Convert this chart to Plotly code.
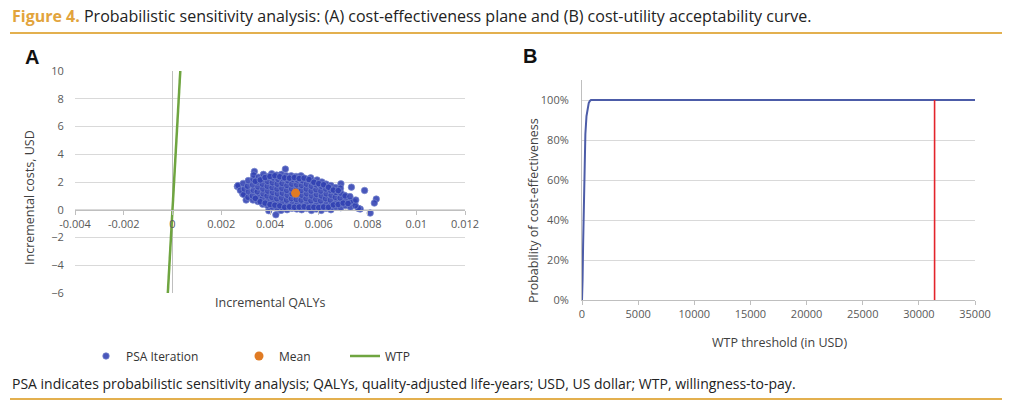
import plotly.graph_objects as go

W, H = 1009, 410

# ---------------- data ----------------
# PSA iterations (incremental QALYs, incremental costs USD), read off the cloud
psa_qaly = [
    2.66e-3, 2.69e-3, 2.88e-3, 3.36e-3, 4.63e-3, 3.95e-3, 4.24e-3, 8.11e-3, 8.36e-3, 8.28e-3,
    7.88e-3, 7.34e-3, 7.70e-3, 7.62e-3, 6.91e-3, 7.05e-3, 7.45e-3, 2.78e-3, 3.02e-3, 4.45e-3,
    2.92e-3, 2.95e-3, 2.90e-3,
    3.10e-3, 3.12e-3, 3.08e-3, 3.11e-3,
    3.30e-3, 3.28e-3, 3.32e-3, 3.29e-3, 3.31e-3, 3.33e-3,
    3.50e-3, 3.52e-3, 3.48e-3, 3.51e-3, 3.49e-3, 3.53e-3,
    3.70e-3, 3.68e-3, 3.72e-3, 3.71e-3, 3.69e-3, 3.70e-3, 3.73e-3,
    3.90e-3, 3.92e-3, 3.88e-3, 3.91e-3, 3.89e-3, 3.90e-3, 3.93e-3,
    4.10e-3, 4.12e-3, 4.08e-3, 4.11e-3, 4.09e-3, 4.10e-3, 4.13e-3, 4.07e-3,
    4.30e-3, 4.32e-3, 4.28e-3, 4.31e-3, 4.29e-3, 4.30e-3, 4.33e-3, 4.27e-3,
    4.50e-3, 4.52e-3, 4.48e-3, 4.51e-3, 4.49e-3, 4.50e-3, 4.53e-3, 4.47e-3,
    4.70e-3, 4.72e-3, 4.68e-3, 4.71e-3, 4.69e-3, 4.70e-3, 4.73e-3, 4.67e-3,
    4.90e-3, 4.92e-3, 4.88e-3, 4.91e-3, 4.89e-3, 4.90e-3, 4.93e-3, 4.87e-3,
    5.10e-3, 5.12e-3, 5.08e-3, 5.11e-3, 5.09e-3, 5.10e-3, 5.13e-3, 5.07e-3,
    5.30e-3, 5.32e-3, 5.28e-3, 5.31e-3, 5.29e-3, 5.30e-3, 5.33e-3, 5.27e-3,
    5.50e-3, 5.52e-3, 5.48e-3, 5.51e-3, 5.49e-3, 5.50e-3, 5.53e-3,
    5.70e-3, 5.72e-3, 5.68e-3, 5.71e-3, 5.69e-3, 5.70e-3, 5.73e-3, 5.67e-3,
    5.90e-3, 5.92e-3, 5.88e-3, 5.91e-3, 5.89e-3, 5.90e-3, 5.93e-3,
    6.10e-3, 6.12e-3, 6.08e-3, 6.11e-3, 6.09e-3, 6.10e-3, 6.13e-3,
    6.30e-3, 6.32e-3, 6.28e-3, 6.31e-3, 6.29e-3, 6.30e-3,
    6.50e-3, 6.52e-3, 6.48e-3, 6.51e-3, 6.49e-3, 6.50e-3,
    6.70e-3, 6.72e-3, 6.68e-3, 6.71e-3, 6.69e-3,
    6.90e-3, 6.92e-3, 6.88e-3, 6.91e-3, 6.89e-3,
    7.10e-3, 7.12e-3, 7.08e-3,
    7.30e-3, 7.32e-3, 7.28e-3,
    7.50e-3, 7.52e-3,
    3.40e-3, 3.60e-3, 3.80e-3, 4.00e-3, 4.20e-3, 4.40e-3, 4.60e-3, 4.80e-3, 5.00e-3, 5.20e-3,
    5.40e-3, 5.60e-3, 5.80e-3, 6.00e-3, 6.20e-3, 6.40e-3, 6.60e-3, 6.80e-3, 7.00e-3, 7.20e-3,
    3.40e-3, 3.60e-3, 3.80e-3, 4.00e-3, 4.20e-3, 4.40e-3, 4.60e-3, 4.80e-3, 5.00e-3, 5.20e-3,
    5.40e-3, 5.60e-3, 5.80e-3, 6.00e-3, 6.20e-3, 6.40e-3, 6.60e-3, 6.80e-3,
]
psa_cost = [
    1.68, 1.75, 1.15, 2.76, 2.93, -0.07, -0.36, -0.24, 0.77, 0.48,
    1.39, 1.63, 0.05, 0.10, 1.87, 1.05, 0.55, 1.40, 0.70, -0.05,
    1.10, 1.50, 1.90,
    0.90, 1.30, 1.70, 2.10,
    0.70, 1.00, 1.40, 1.80, 2.20, 2.50,
    0.60, 0.95, 1.30, 1.65, 2.00, 2.35,
    0.40, 0.80, 1.15, 1.50, 1.85, 2.20, 2.55,
    0.30, 0.65, 1.00, 1.35, 1.70, 2.05, 2.40,
    0.20, 0.55, 0.90, 1.25, 1.60, 1.95, 2.30, 2.60,
    0.10, 0.45, 0.80, 1.15, 1.50, 1.85, 2.20, 2.50,
    0.15, 0.50, 0.85, 1.20, 1.55, 1.90, 2.25, 2.55,
    0.00, 0.35, 0.70, 1.05, 1.40, 1.75, 2.10, 2.45,
    0.10, 0.45, 0.80, 1.15, 1.50, 1.85, 2.20, 2.45,
    0.05, 0.40, 0.75, 1.10, 1.45, 1.80, 2.15, 2.40,
    0.00, 0.35, 0.70, 1.05, 1.40, 1.75, 2.10, 2.45,
    0.10, 0.45, 0.80, 1.15, 1.50, 1.85, 2.20,
    -0.05, 0.30, 0.65, 1.00, 1.35, 1.70, 2.05, 2.30,
    0.05, 0.40, 0.75, 1.10, 1.45, 1.80, 2.15,
    -0.05, 0.30, 0.65, 1.00, 1.35, 1.70, 2.00,
    0.10, 0.45, 0.80, 1.15, 1.50, 1.85,
    0.00, 0.35, 0.70, 1.05, 1.40, 1.75,
    0.20, 0.55, 0.90, 1.25, 1.60,
    0.15, 0.50, 0.85, 1.20, 1.55,
    0.30, 0.65, 1.00,
    0.20, 0.60, 0.95,
    0.30, 0.70,
    0.82, 0.58, 0.48, 0.38, 0.33, 0.28, 0.18, 0.22, 0.18, 0.20,
    0.22, 0.15, 0.18, 0.16, 0.20, 0.18, 0.35, 0.38, 0.48, 0.45,
    2.05, 2.15, 2.32, 2.40, 2.45, 2.38, 2.30, 2.28, 2.32, 2.25,
    2.28, 2.18, 1.98, 1.88, 1.80, 1.62, 1.42, 1.38,
]
mean_qaly = [5.05e-3]
mean_cost = [1.2]

wtp_qaly = [-0.000192, 0.000319]
wtp_cost = [-6, 10]

a_xticks = [-0.004, -0.002, 0, 0.002, 0.004, 0.006, 0.008, 0.01, 0.012]
a_xlabels = ["-0.004", "-0.002", "0", "0.002", "0.004", "0.006", "0.008", "0.01", "0.012"]
a_yticks = [-6, -4, -2, 0, 2, 4, 6, 8, 10]

# CEAC
ceac_wtp = [0, 25, 50, 100, 150, 200, 250, 300, 400, 500, 600, 700, 800, 1000,
            5000, 10000, 15000, 20000, 25000, 30000, 35000]
ceac_prob = [0.0, 0.04, 0.10, 0.28, 0.46, 0.62, 0.74, 0.83, 0.92, 0.965, 0.985, 0.995, 1.0, 1.0,
             1.0, 1.0, 1.0, 1.0, 1.0, 1.0, 1.0]
threshold_wtp = 31400
b_xticks = [0, 5000, 10000, 15000, 20000, 25000, 30000, 35000]
b_xlabels = ["0", "5000", "10000", "15000", "20000", "25000", "30000", "35000"]
b_yticks = [0, 0.2, 0.4, 0.6, 0.8, 1.0]

# ---------------- layout geometry (pixels) ----------------
def px(x):
    return x / W

def py(y):
    return 1 - y / H

A_x0, A_x1, A_ytop, A_ybot = 75, 465, 71, 293
B_x0, B_x1, B_ytop, B_ybot = 582, 975, 80, 300

a_yrange = [-6, 10]
a_ydom = [py(A_ybot), py(A_ytop)]
a_xaxis_pos = a_ydom[0] + (0 - a_yrange[0]) / (a_yrange[1] - a_yrange[0]) * (a_ydom[1] - a_ydom[0])

FONT = "Open Sans"
TICK = "#595959"
GRID = "#D9D9D9"
AXLINE = "#BFBFBF"

fig = go.Figure()

fig.add_trace(go.Scatter(
    x=psa_qaly, y=psa_cost, mode="markers", name="PSA Iteration",
    xaxis="x", yaxis="y", legend="legend",
    marker=dict(size=6.5, color="rgba(48,64,178,0.88)",
                line=dict(width=0.8, color="rgba(120,135,205,0.9)")),
))
fig.add_trace(go.Scatter(
    x=mean_qaly, y=mean_cost, mode="markers", name="Mean",
    xaxis="x", yaxis="y", legend="legend2",
    marker=dict(size=9, color="#E07B24"),
))
fig.add_trace(go.Scatter(
    x=wtp_qaly, y=wtp_cost, mode="lines", name="WTP",
    xaxis="x", yaxis="y", legend="legend3",
    line=dict(color="#6FA540", width=2.5),
))

fig.add_trace(go.Scatter(
    x=ceac_wtp, y=ceac_prob, mode="lines", showlegend=False,
    xaxis="x2", yaxis="y2", line=dict(color="#4C5CA8", width=2),
))
fig.add_trace(go.Scatter(
    x=[threshold_wtp, threshold_wtp], y=[0, 1], mode="lines", showlegend=False,
    xaxis="x2", yaxis="y2", line=dict(color="#E3242B", width=1.6),
))

leg_common = dict(orientation="h", yanchor="middle", bgcolor="rgba(0,0,0,0)",
                  font=dict(family=FONT, size=12, color="#333333"))

fig.update_layout(
    width=W, height=H,
    margin=dict(l=0, r=0, t=0, b=0, autoexpand=False),
    paper_bgcolor="white", plot_bgcolor="white",
    font=dict(family=FONT, color=TICK),
    xaxis=dict(
        domain=[px(A_x0), px(A_x1)], range=[-0.004, 0.012], automargin=False,
        anchor="free", position=a_xaxis_pos,
        tickvals=a_xticks, ticktext=a_xlabels,
        showgrid=False, zeroline=True, zerolinecolor=AXLINE, zerolinewidth=1,
        showline=True, linecolor=AXLINE, linewidth=1,
        ticks="outside", ticklen=4, tickcolor=AXLINE,
        tickfont=dict(size=11, color=TICK, family=FONT),
    ),
    yaxis=dict(
        domain=a_ydom, range=a_yrange, anchor="x", automargin=False,
        tickvals=a_yticks, showgrid=True, gridcolor=GRID, gridwidth=1,
        zeroline=False, showline=False,
        ticks="outside", ticklen=8, tickcolor="rgba(0,0,0,0)",
        tickfont=dict(size=11, color=TICK, family=FONT),
    ),
    xaxis2=dict(
        domain=[px(B_x0), px(B_x1)], range=[0, 35000], anchor="y2", automargin=False,
        tickvals=b_xticks, ticktext=b_xlabels, showgrid=False, zeroline=False,
        showline=True, linecolor=AXLINE, linewidth=1,
        ticks="outside", ticklen=4, tickcolor=AXLINE,
        tickfont=dict(size=11, color=TICK, family=FONT),
    ),
    yaxis2=dict(
        domain=[py(B_ybot), py(B_ytop)], range=[0, 1.1], anchor="x2", automargin=False,
        tickvals=b_yticks, tickformat=".0%",
        showgrid=True, gridcolor=GRID, gridwidth=1, zeroline=False,
        showline=True, linecolor=AXLINE, linewidth=1,
        ticks="outside", ticklen=10, tickcolor="rgba(0,0,0,0)",
        tickfont=dict(size=11, color=TICK, family=FONT),
    ),
    legend=dict(x=px(86), y=py(356), xanchor="left", **leg_common),
    legend2=dict(x=px(239), y=py(356), xanchor="left", **leg_common),
    legend3=dict(x=px(345), y=py(356), xanchor="left", **leg_common),
)

# Header / footer text
fig.add_annotation(x=px(10), y=py(16), xref="paper", yref="paper", xanchor="left", yanchor="middle",
                   showarrow=False,
                   text="<span style='color:#E2A43C;font-weight:bold'>Figure 4.</span> "
                        "Probabilistic sensitivity analysis: (A) cost-effectiveness plane and (B) cost-utility acceptability curve.",
                   font=dict(family=FONT, size=16, color="#222222"))
fig.add_annotation(x=px(10), y=py(383), xref="paper", yref="paper", xanchor="left", yanchor="middle",
                   showarrow=False,
                   text="PSA indicates probabilistic sensitivity analysis; QALYs, quality-adjusted life-years; USD, US dollar; WTP, willingness-to-pay.",
                   font=dict(family=FONT, size=14, color="#222222"))

# Panel letters
fig.add_annotation(x=px(23), y=py(57), xref="paper", yref="paper", xanchor="left", yanchor="middle",
                   showarrow=False, text="<b>A</b>", font=dict(family="Liberation Sans", size=20, color="#111111"))
fig.add_annotation(x=px(521), y=py(56), xref="paper", yref="paper", xanchor="left", yanchor="middle",
                   showarrow=False, text="<b>B</b>", font=dict(family="Liberation Sans", size=20, color="#111111"))

# Axis titles
title_font = dict(family=FONT, size=12.5, color="#404040")
fig.add_annotation(x=px(270), y=py(302), xref="paper", yref="paper", showarrow=False,
                   xanchor="center", yanchor="middle",
                   text="Incremental QALYs", font=title_font)
fig.add_annotation(x=px(29), y=py(198), xref="paper", yref="paper", showarrow=False, textangle=-90,
                   xanchor="center", yanchor="middle",
                   text="Incremental costs, USD", font=title_font)
fig.add_annotation(x=px(779), y=py(342), xref="paper", yref="paper", showarrow=False,
                   xanchor="center", yanchor="middle",
                   text="WTP threshold (in USD)", font=title_font)
fig.add_annotation(x=px(533), y=py(211), xref="paper", yref="paper", showarrow=False, textangle=-90,
                   xanchor="center", yanchor="middle",
                   text="Probability of cost-effectiveness", font=title_font)

# Gold rules
for yy in (33, 399):
    fig.add_shape(type="line", xref="paper", yref="paper", x0=px(10), x1=px(1002), y0=py(yy), y1=py(yy),
                  line=dict(color="#E3B04F", width=2))

fig.write_html("out.html")
